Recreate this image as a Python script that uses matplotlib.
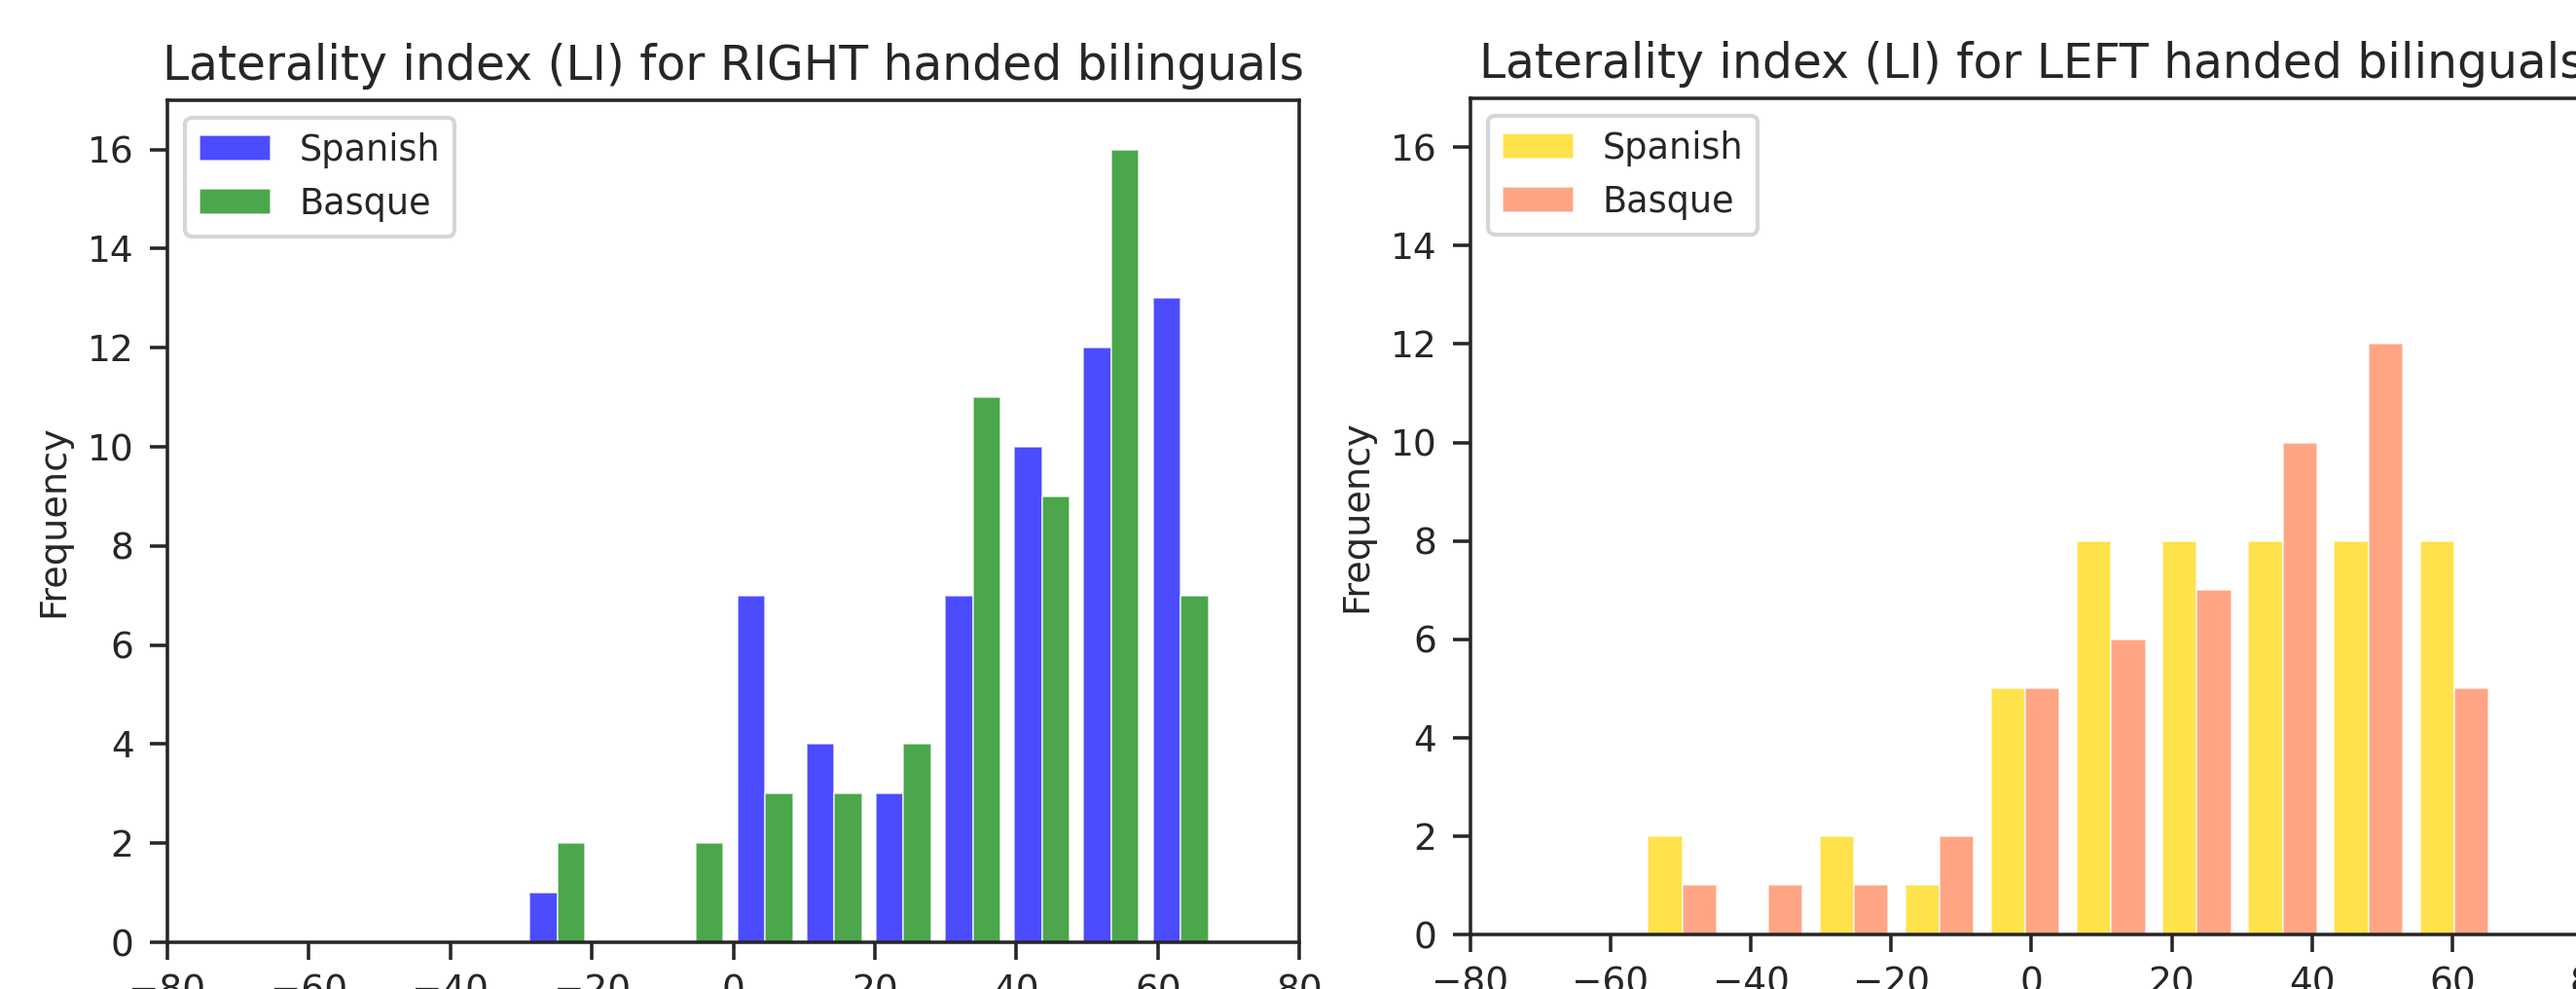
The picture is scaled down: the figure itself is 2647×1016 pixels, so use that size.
import matplotlib
matplotlib.use("Agg")
import matplotlib.pyplot as plt
import numpy as np

# histogram counts (10 bins each)
right_spanish = [1, 0, 0, 7, 4, 3, 7, 10, 12, 13]
right_basque = [2, 0, 2, 3, 3, 4, 11, 9, 16, 7]
right_li_range = (-29.8, 68.1)

left_spanish = [2, 0, 2, 1, 5, 8, 8, 8, 8, 8]
left_basque = [1, 1, 1, 2, 5, 6, 7, 10, 12, 5]
left_li_range = (-55.9, 66.4)

labels = ["Spanish", "Basque"]
yticks = [0, 2, 4, 6, 8, 10, 12, 14, 16]
xticks = [-80, -60, -40, -20, 0, 20, 40, 60, 80]

dark = "#262626"
plt.rcParams["font.family"] = ["DejaVu Sans"]
plt.rcParams["text.color"] = dark
plt.rcParams["axes.labelcolor"] = dark
plt.rcParams["xtick.color"] = dark
plt.rcParams["ytick.color"] = dark
plt.rcParams["axes.edgecolor"] = dark
plt.rcParams["axes.linewidth"] = 0.85
plt.rcParams["xtick.major.width"] = 0.85
plt.rcParams["ytick.major.width"] = 0.85
plt.rcParams["xtick.major.size"] = 4.3
plt.rcParams["ytick.major.size"] = 4.3
plt.rcParams["xtick.major.pad"] = 3.5
plt.rcParams["ytick.major.pad"] = 4
plt.rcParams["xtick.labelsize"] = 9
plt.rcParams["ytick.labelsize"] = 9
plt.rcParams["legend.fontsize"] = 8.8

dpi = 300
fig = plt.figure(figsize=(2647 / dpi, 1016 / dpi), dpi=dpi)
ax1 = fig.add_axes([0.065, 0.0472, 0.4394, 0.8517])
ax2 = fig.add_axes([0.5708, 0.0551, 0.4356, 0.8458])


def draw(ax, sp, bq, li_range, colors, title):
    edges = np.linspace(li_range[0], li_range[1], len(sp) + 1)
    centers = (edges[:-1] + edges[1:]) / 2
    ax.hist([centers, centers], bins=edges, weights=[sp, bq], color=colors,
            alpha=0.7, edgecolor="white", linewidth=0.4, label=labels)
    ax.set_xlim(-80, 80)
    ax.set_ylim(0, 17)
    ax.set_xticks(xticks)
    ax.set_yticks(yticks)
    ax.set_ylabel("Frequency", fontsize=9.2, labelpad=4)
    ax.set_title(title, fontsize=11.7, pad=5)
    ax.legend(loc="upper left")


draw(ax1, right_spanish, right_basque, right_li_range, ["blue", "green"],
     "Laterality index (LI) for RIGHT handed bilinguals")
draw(ax2, left_spanish, left_basque, left_li_range, ["gold", "coral"],
     "Laterality index (LI) for LEFT handed bilinguals")

fig.savefig("out.png", dpi=dpi)
